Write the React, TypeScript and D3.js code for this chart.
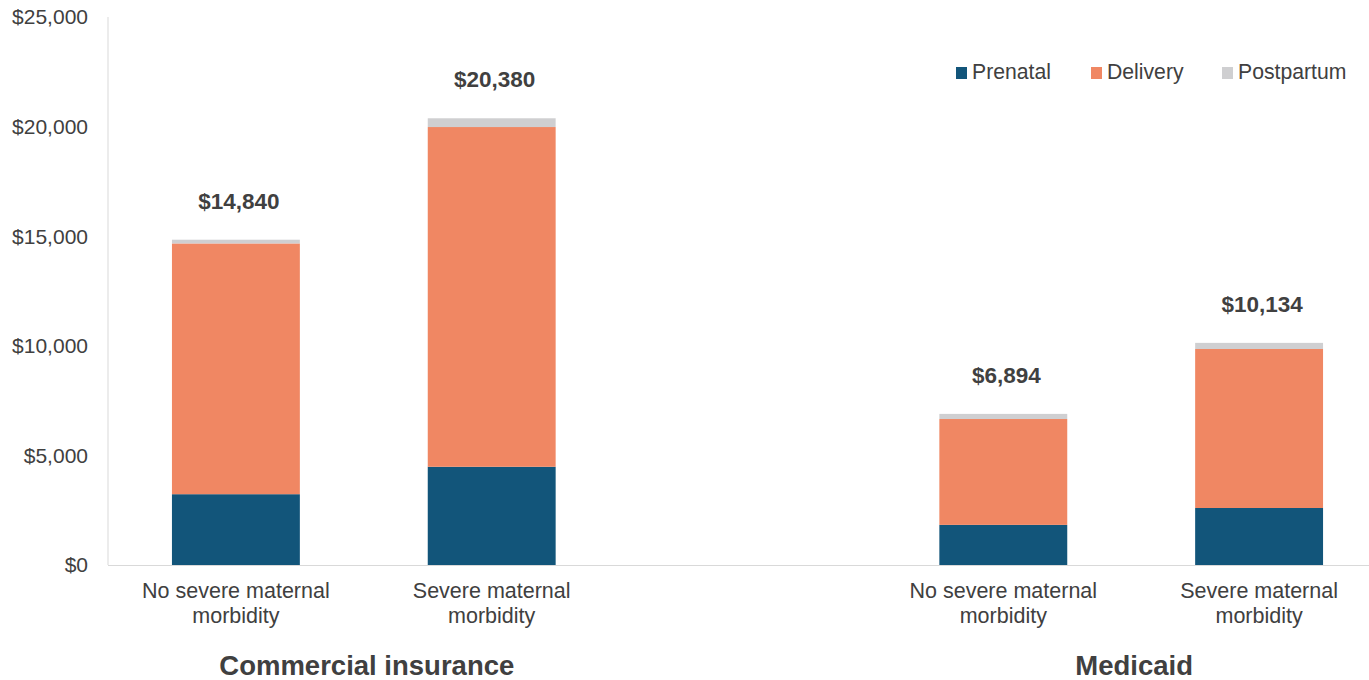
import React from "react";
import * as d3 from "d3";

const categories = ["No severe maternal morbidity|C", "Severe maternal morbidity|C", "gap", "No severe maternal morbidity|M", "Severe maternal morbidity|M"];
const barCategories = ["No severe maternal morbidity|C", "Severe maternal morbidity|C", "No severe maternal morbidity|M", "Severe maternal morbidity|M"];
const categoryLines = [["No severe maternal", "morbidity"], ["Severe maternal", "morbidity"], ["No severe maternal", "morbidity"], ["Severe maternal", "morbidity"]];
const prenatal = [3230, 4480, 1830, 2600];
const delivery = [11440, 15500, 4830, 7254];
const postpartum = [170, 400, 234, 280];
const totalLabels = ["$14,840", "$20,380", "$6,894", "$10,134"];
const groups = ["Commercial insurance", "Medicaid"];
const groupMembers = [[0, 1], [2, 3]];
const seriesNames = ["Prenatal", "Delivery", "Postpartum"];
const seriesColors = ["#12557a", "#f08763", "#cfcfd1"];
const yTicks = [0, 5000, 10000, 15000, 20000, 25000];

const W = 1369, H = 680;
const left = 108, right = 1387, top = 17, bottom = 565;
const font = "Arial, 'Liberation Sans', sans-serif";
const textColor = "#404040";

export default function App() {
  const x = d3.scaleBand<string>().domain(categories).range([left, right]).paddingInner(0.5).paddingOuter(0.25);
  const y = d3.scaleLinear().domain([0, 25000]).range([bottom, top]);
  const table = barCategories.map((c, i) => ({ cat: c, Prenatal: prenatal[i], Delivery: delivery[i], Postpartum: postpartum[i] }));
  const stack = d3.stack<any>().keys(seriesNames)(table);
  const fmt = d3.format("$,");
  const bw = x.bandwidth();
  const center = (i: number) => (x(barCategories[i]) as number) + bw / 2;

  return (
    <svg width={W} height={H} style={{ position: "absolute", left: 0, top: 0, background: "#fff" }} fontFamily={font}>
      <line x1={left} x2={left} y1={top} y2={bottom} stroke="#d9d9d9" strokeWidth={1} />
      <line x1={left} x2={W} y1={bottom + 0.5} y2={bottom + 0.5} stroke="#d9d9d9" strokeWidth={1} />
      {yTicks.map((t) => (
        <text key={t} x={88} y={y(t)} dy="0.35em" textAnchor="end" fontSize={21} fill={textColor}>
          {fmt(t)}
        </text>
      ))}
      {stack.map((s, si) => (
        <g key={si} fill={seriesColors[si]}>
          {s.map((d: any, i: number) => (
            <rect key={i} x={x(barCategories[i])} width={bw} y={y(d[1])} height={y(d[0]) - y(d[1])} />
          ))}
        </g>
      ))}
      {barCategories.map((c, i) => (
        <text key={c} x={center(i) + 3} y={y(prenatal[i] + delivery[i] + postpartum[i]) - 31} textAnchor="middle" fontSize={22.5} fontWeight="bold" fill={textColor}>
          {totalLabels[i]}
        </text>
      ))}
      {categoryLines.map((lines, i) => (
        <text key={i} x={center(i)} y={598} textAnchor="middle" fontSize={21.5} fill={textColor}>
          {lines.map((l, li) => (
            <tspan key={li} x={center(i)} dy={li === 0 ? 0 : 25}>{l}</tspan>
          ))}
        </text>
      ))}
      {groups.map((g, gi) => {
        const cx = (center(groupMembers[gi][0]) + center(groupMembers[gi][1])) / 2 + 3;
        return (
          <text key={g} x={cx} y={675} textAnchor="middle" fontSize={27.5} fontWeight="bold" fill={textColor}>
            {g}
          </text>
        );
      })}
      {seriesNames.map((n, i) => {
        const lx = [956, 1091, 1222][i];
        return (
          <g key={n}>
            <rect x={lx} y={67} width={11} height={12} fill={seriesColors[i]} />
            <text x={lx + 16} y={79} fontSize={21.2} fill={textColor}>{n}</text>
          </g>
        );
      })}
    </svg>
  );
}
